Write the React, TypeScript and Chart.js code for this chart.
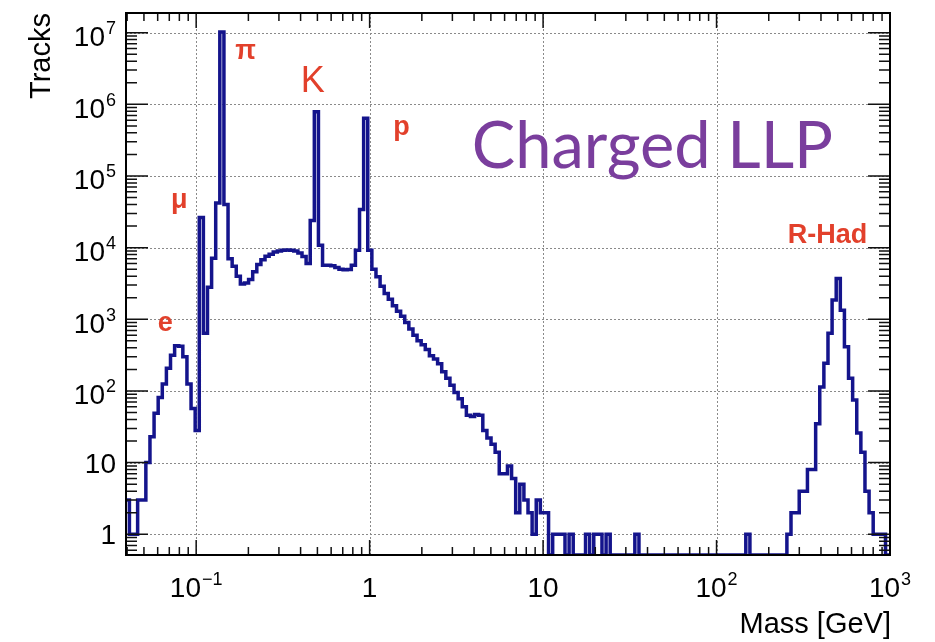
import { useEffect, useRef } from 'react';
import { Chart, registerables } from 'chart.js';

Chart.register(...registerables);

// ---- axis ranges ----
const X_MIN = 0.0394;
const X_MAX = 1000;
const Y_MIN = 0.514;
const Y_MAX = 1.88e7;

// ---- histogram binning (log-uniform bins) ----
const BIN_LOG_START = -1.4085; // log10 of first bin edge [GeV]
const BIN_LOG_WIDTH = 0.02369; // bin width in decades

// ---- track counts per bin ----
const COUNTS = [
  3, 1, 1, 3, 3, 10, 23, 49, 81, 125,
  207, 316, 427, 420, 300, 125, 57, 28, 26300, 640,
  2800, 7100, 42000, 10200000, 40000, 7000, 5500, 4000, 3100, 3200,
  3600, 4600, 5800, 6800, 7600, 8100, 8700, 9000, 9200, 9300,
  9200, 9000, 8400, 7500, 6000, 24000, 790000, 10800, 5700, 5700,
  5600, 5300, 5000, 4900, 4950, 5700, 9200, 34000, 640000, 9200,
  5000, 3920, 2900, 2300, 1900, 1550, 1300, 1100, 900, 730,
  600, 500, 440, 380, 310, 280, 240, 185, 150, 120,
  95, 78, 60, 46, 44, 47, 46, 28, 22, 18,
  14, 7, 7, 9, 6, 2, 5, 3, 2, 1,
  3, 2, 2, 0, 1, 1, 1, 0, 1, 0,
  0, 0, 1, 0, 1, 1, 0, 1, 0, 0,
  0, 0, 0, 0, 1, 0, 0, 0, 0, 0,
  0, 0, 0, 0, 0, 0, 0, 0, 0, 0,
  0, 0, 0, 0, 0, 0, 0, 0, 0, 0,
  0, 1, 0, 0, 0, 0, 0, 0, 0, 0,
  0, 1, 2, 2, 4, 4, 8, 8, 35, 114,
  243, 637, 1860, 3720, 1340, 414, 150, 75, 26, 14,
  4, 2, 1, 1, 1, 0,
];

// ---- tick labels ----
const X_TICK_VALUES = [0.1, 1, 10, 100, 1000];
const X_TICK_BASES = ['10', '1', '10', '10', '10'];
const X_TICK_EXPS = ['\u22121', '', '', '2', '3'];
const Y_TICK_VALUES = [1, 10, 1e2, 1e3, 1e4, 1e5, 1e6, 1e7];
const Y_TICK_BASES = ['1', '10', '10', '10', '10', '10', '10', '10'];
const Y_TICK_EXPS = ['', '', '2', '3', '4', '5', '6', '7'];
const X_GRID = [0.1, 1, 10, 100];
const Y_GRID = [1, 10, 1e2, 1e3, 1e4, 1e5, 1e6, 1e7];

// ---- particle annotations (anchor in data coordinates) ----
const LABEL_TEXTS = ['e', '\u03bc', '\u03c0', 'K', 'p', 'R-Had'];
const LABEL_MASS = [0.0663, 0.0798, 0.1929, 0.4693, 1.529, 436.3];
const LABEL_TRACKS = [687, 3.62e4, 4.29e6, 1.49e6, 3.78e5, 1.16e4];
const LABEL_BOLD = [true, true, true, false, true, true];

const TITLE_TEXT = 'Charged LLP';
const TITLE_MASS = 3.88;
const TITLE_TRACKS = 1.28e5;

const X_TITLE = 'Mass [GeV]';
const Y_TITLE = 'Tracks';

const LINE_COLOR = '#14148c';
const RED = '#e2402b';
const PURPLE = '#7a3e9d';
const SANS = '"Liberation Sans", Arial, Helvetica, sans-serif';

function minorValues(lo: number, hi: number): { v: number; major: boolean }[] {
  const out: { v: number; major: boolean }[] = [];
  for (let k = -3; k <= 8; k++) {
    for (let m = 1; m <= 9; m++) {
      const v = m * Math.pow(10, k);
      if (v >= lo * 0.9999 && v <= hi * 1.0001) out.push({ v, major: m === 1 });
    }
  }
  return out;
}

function drawPow(
  ctx: CanvasRenderingContext2D,
  base: string,
  exp: string,
  x: number,
  y: number,
  align: 'right' | 'center',
) {
  ctx.font = `28px ${SANS}`;
  const wb = ctx.measureText(base).width;
  ctx.font = `18px ${SANS}`;
  const we = exp ? ctx.measureText(exp).width + 1 : 0;
  const total = wb + we;
  const x0 = align === 'right' ? x - total : x - total / 2;
  ctx.textAlign = 'left';
  ctx.textBaseline = 'alphabetic';
  ctx.font = `28px ${SANS}`;
  ctx.fillText(base, x0, y);
  if (exp) {
    ctx.font = `18px ${SANS}`;
    ctx.fillText(exp, x0 + wb + 1, y - 12);
  }
}

const decorPlugin = {
  id: 'decor',
  beforeDatasetsDraw(chart: any) {
    const ctx: CanvasRenderingContext2D = chart.ctx;
    const { left, right, top, bottom } = chart.chartArea;
    const xs = chart.scales.x;
    const ys = chart.scales.y;
    ctx.save();
    ctx.strokeStyle = '#8a8a8a';
    ctx.lineWidth = 1;
    ctx.setLineDash([2, 2]);
    for (const v of X_GRID) {
      const px = Math.round(xs.getPixelForValue(v)) + 0.5;
      ctx.beginPath();
      ctx.moveTo(px, top);
      ctx.lineTo(px, bottom);
      ctx.stroke();
    }
    for (const v of Y_GRID) {
      const py = Math.round(ys.getPixelForValue(v)) + 0.5;
      ctx.beginPath();
      ctx.moveTo(left, py);
      ctx.lineTo(right, py);
      ctx.stroke();
    }
    ctx.restore();
  },
  afterDatasetsDraw(chart: any) {
    const ctx: CanvasRenderingContext2D = chart.ctx;
    const { left, right, top, bottom } = chart.chartArea;
    const xs = chart.scales.x;
    const ys = chart.scales.y;
    ctx.save();
    ctx.setLineDash([]);
    // ticks
    ctx.strokeStyle = '#111';
    ctx.lineWidth = 1.5;
    for (const t of minorValues(X_MIN, X_MAX)) {
      const px = xs.getPixelForValue(t.v);
      const len = t.major ? 15 : 8;
      ctx.beginPath();
      ctx.moveTo(px, bottom);
      ctx.lineTo(px, bottom - len);
      ctx.moveTo(px, top);
      ctx.lineTo(px, top + len);
      ctx.stroke();
    }
    for (const t of minorValues(Y_MIN, Y_MAX)) {
      const py = ys.getPixelForValue(t.v);
      const len = t.major ? 22 : 11;
      ctx.beginPath();
      ctx.moveTo(left, py);
      ctx.lineTo(left + len, py);
      ctx.moveTo(right, py);
      ctx.lineTo(right - len, py);
      ctx.stroke();
    }
    // frame
    ctx.strokeStyle = '#000';
    ctx.lineWidth = 2;
    ctx.strokeRect(left, top, right - left, bottom - top);

    // tick labels
    ctx.fillStyle = '#000';
    X_TICK_VALUES.forEach((v, i) => {
      const px = xs.getPixelForValue(v);
      drawPow(ctx, X_TICK_BASES[i], X_TICK_EXPS[i], px, bottom + 42, 'center');
    });
    Y_TICK_VALUES.forEach((v, i) => {
      const py = ys.getPixelForValue(v);
      const off = Y_TICK_EXPS[i] ? 13.5 : 10;
      drawPow(ctx, Y_TICK_BASES[i], Y_TICK_EXPS[i], left - 10, py + off, 'right');
    });

    // axis titles
    ctx.font = `29px ${SANS}`;
    ctx.textAlign = 'right';
    ctx.textBaseline = 'alphabetic';
    ctx.fillText(X_TITLE, right + 1, bottom + 78);
    ctx.save();
    ctx.translate(50, top);
    ctx.rotate(-Math.PI / 2);
    ctx.textAlign = 'right';
    ctx.fillText(Y_TITLE, 0, 0);
    ctx.restore();

    // particle labels
    ctx.fillStyle = RED;
    ctx.textAlign = 'center';
    ctx.textBaseline = 'alphabetic';
    LABEL_TEXTS.forEach((t, i) => {
      ctx.font = LABEL_BOLD[i] ? `bold 27px ${SANS}` : `36px ${SANS}`;
      ctx.fillText(t, xs.getPixelForValue(LABEL_MASS[i]), ys.getPixelForValue(LABEL_TRACKS[i]));
    });

    // big title
    ctx.fillStyle = PURPLE;
    ctx.textAlign = 'left';
    ctx.font = `65px Lato, "Open Sans", sans-serif`;
    ctx.fillText(TITLE_TEXT, xs.getPixelForValue(TITLE_MASS), ys.getPixelForValue(TITLE_TRACKS));
    ctx.restore();
  },
};

function buildPoints() {
  const pts: { x: number; y: number }[] = [];
  for (let i = 0; i < COUNTS.length; i++) {
    const c = COUNTS[i];
    pts.push({ x: Math.pow(10, BIN_LOG_START + i * BIN_LOG_WIDTH), y: c > 0 ? c : Y_MIN });
  }
  const last = COUNTS[COUNTS.length - 1];
  pts.push({
    x: Math.pow(10, BIN_LOG_START + COUNTS.length * BIN_LOG_WIDTH),
    y: last > 0 ? last : Y_MIN,
  });
  return pts;
}

export default function App() {
  const ref = useRef<HTMLCanvasElement>(null);
  useEffect(() => {
    const canvas = ref.current;
    if (!canvas) return;
    const chart = new Chart(canvas, {
      type: 'line',
      data: {
        datasets: [
          {
            data: buildPoints(),
            borderColor: LINE_COLOR,
            borderWidth: 3.5,
            stepped: 'before',
            pointRadius: 0,
            fill: false,
            borderJoinStyle: 'miter',
            borderCapStyle: 'butt',
            clip: 0,
          } as any,
        ],
      },
      options: {
        responsive: false,
        animation: false,
        devicePixelRatio: 1,
        layout: { padding: { left: 126, right: 45, top: 13, bottom: 87 } },
        plugins: { legend: { display: false }, tooltip: { enabled: false } },
        events: [],
        scales: {
          x: { type: 'logarithmic', min: X_MIN, max: X_MAX, display: false },
          y: { type: 'logarithmic', min: Y_MIN, max: Y_MAX, display: false },
        },
      },
      plugins: [decorPlugin],
    });
    return () => chart.destroy();
  }, []);
  return (
    <div style={{ position: 'fixed', left: 0, top: 0, width: 935, height: 642, background: '#fff' }}>
      <canvas ref={ref} width={935} height={642} style={{ display: 'block', width: 935, height: 642 }} />
    </div>
  );
}
